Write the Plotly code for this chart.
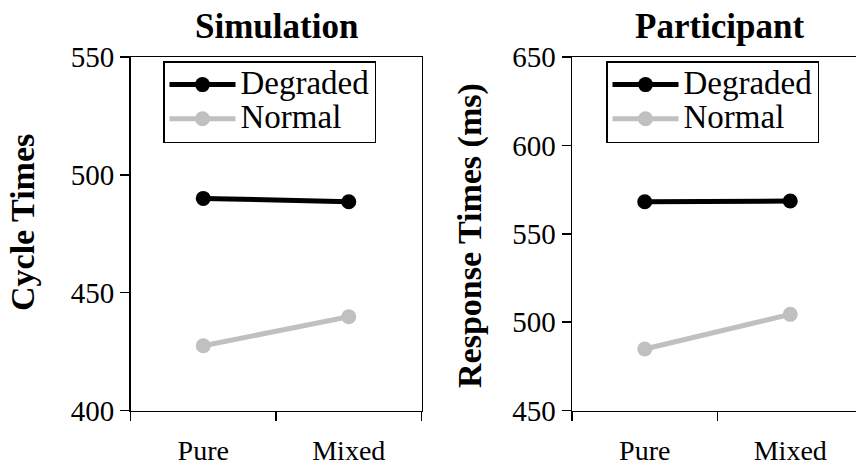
import plotly.graph_objects as go

conditions = ["Pure", "Mixed"]
sim_degraded = [490.0, 488.6]
sim_normal = [427.5, 439.8]
part_degraded = [568.1, 568.5]
part_normal = [484.8, 504.4]
series_names = ["Degraded", "Normal"]
panel_titles = ["Simulation", "Participant"]
y_titles = ["Cycle Times", "Response Times (ms)"]
sim_ticks = [400, 450, 500, 550]
part_ticks = [450, 500, 550, 600, 650]

W, H = 856, 466
FONT = "Liberation Serif, Times New Roman, serif"
BLACK = "#000000"
GRAY = "#c0c0c0"

fig = go.Figure()

def legend_label(name):
    return '<span style="font-size:33px">' + name + "</span>"

def add_series(x, y, name, color, xa, ya, legend):
    fig.add_trace(go.Scatter(
        x=x, y=y, name=legend_label(name), mode="lines+markers",
        line=dict(color=color, width=5),
        marker=dict(color=color, size=15),
        xaxis=xa, yaxis=ya, legend=legend, hoverinfo="skip"))

add_series(conditions, sim_degraded, series_names[0], BLACK, "x", "y", "legend")
add_series(conditions, sim_normal, series_names[1], GRAY, "x", "y", "legend")
add_series(conditions, part_degraded, series_names[0], BLACK, "x2", "y2", "legend2")
add_series(conditions, part_normal, series_names[1], GRAY, "x2", "y2", "legend2")

ydom = [1 - 410.5 / H, 1 - 57 / H]
xcommon = dict(type="category", showline=True, linecolor=BLACK, linewidth=1.5,
               ticks="outside", ticklen=9, tickwidth=1.5, tickcolor=BLACK,
               tickson="boundaries", showgrid=False, zeroline=False,
               tickfont=dict(family=FONT, size=28, color=BLACK),
               ticklabelstandoff=14, fixedrange=True, automargin=False)
ycommon = dict(showline=True, linecolor=BLACK, linewidth=1.5,
               ticks="outside", ticklen=9, tickwidth=1.5, tickcolor=BLACK,
               showgrid=False, zeroline=False,
               tickfont=dict(family=FONT, size=29, color=BLACK),
               ticklabelstandoff=0, fixedrange=True, automargin=False)

legend_common = dict(bgcolor="white", bordercolor=BLACK, borderwidth=1.5,
                     font=dict(family=FONT, size=24, color=BLACK),
                     xanchor="left", yanchor="top", tracegroupgap=0,
                     itemwidth=66, entrywidth=145, entrywidthmode="pixels",
                     itemclick=False, itemdoubleclick=False)

def text_ann(text, xpx, ypx, size, angle=0):
    return dict(text="<b>" + text + "</b>", x=xpx / W, y=1 - ypx / H,
                xref="paper", yref="paper", showarrow=False, textangle=angle,
                xanchor="center", yanchor="middle",
                font=dict(family=FONT, size=size, color=BLACK))

fig.update_layout(
    template="none",
    width=W, height=H, autosize=False,
    margin=dict(l=0, r=0, t=0, b=0, pad=0),
    paper_bgcolor="white", plot_bgcolor="white",
    showlegend=True,
    xaxis=dict(domain=[130.5 / W, 421.5 / W], range=[-0.5, 1.5], mirror=True,
               anchor="y", **xcommon),
    yaxis=dict(domain=ydom, range=[400, 550], tickvals=sim_ticks, mirror=True,
               anchor="x", **ycommon),
    xaxis2=dict(domain=[572 / W, 1.0], range=[-0.5, -0.5 + 284 / 145.5], mirror=True,
                anchor="y2", **xcommon),
    yaxis2=dict(domain=ydom, range=[450, 650], tickvals=part_ticks, mirror=False,
                anchor="x2", **ycommon),
    legend=dict(x=163 / W, y=1 - 61 / H, **legend_common),
    legend2=dict(x=606 / W, y=1 - 61 / H, **legend_common),
    annotations=[
        text_ann(panel_titles[0], 276, 26, 35),
        text_ann(panel_titles[1], 719, 26, 35),
        text_ann(y_titles[0], 22, 223, 34, -90),
        text_ann(y_titles[1], 470, 236, 34, -90),
    ],
)

fig.write_html("out.html", config=dict(displayModeBar=False, staticPlot=True),
               post_script="document.body.style.margin='0px';document.body.style.overflow='hidden';")
